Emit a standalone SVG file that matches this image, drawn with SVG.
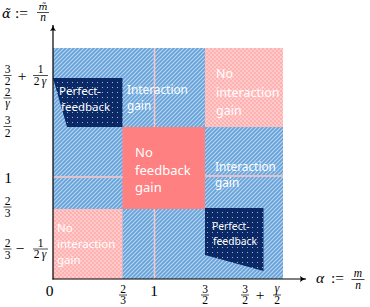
<svg xmlns="http://www.w3.org/2000/svg" width="370" height="307" viewBox="0 0 370 307">
<style>
.lbl{font-family:"Noto Sans","DejaVu Sans",sans-serif;fill:#ffffff;}
.m{font-family:"Liberation Serif","DejaVu Serif",serif;fill:#000;}
.mi{font-family:"Liberation Serif","DejaVu Serif",serif;font-style:italic;fill:#000;}
.dj{font-family:"DejaVu Serif",serif;font-style:italic;fill:#000;}
.f{font-size:11.5px;}
.b{font-size:15.5px;}
.bar{stroke:#000;stroke-width:0.7;}
.sep{stroke:#ffc4c4;stroke-width:1.5;}
.ax{stroke:#000;stroke-width:1.2;fill:none;}
</style>
<defs>
<pattern id="hatch" patternUnits="userSpaceOnUse" width="4" height="4">
<rect width="4" height="4" fill="#66a2d9"/>
<path d="M-1,1 l2,-2 M0,4 l4,-4 M3,5 l2,-2" stroke="#b6d5f0" stroke-width="1.2"/>
</pattern>
<pattern id="check" patternUnits="userSpaceOnUse" width="4" height="4">
<rect width="4" height="4" fill="#ffb0b0"/>
<rect width="2" height="2" fill="#ffcaca"/>
<rect x="2" y="2" width="2" height="2" fill="#ffcaca"/>
</pattern>
<pattern id="dots" patternUnits="userSpaceOnUse" width="5" height="5">
<rect width="5" height="5" fill="#0b2966"/>
<circle cx="2.5" cy="2.5" r="0.55" fill="#ffffff" fill-opacity="0.75"/>
</pattern>
<marker id="arr" markerWidth="8" markerHeight="8" refX="6" refY="4" orient="auto" markerUnits="userSpaceOnUse">
<path d="M0,1 Q3,3.5 6,4 Q3,4.5 0,7 Q1.5,4 0,1 Z" fill="#000"/>
</marker>
</defs>

<g id="regions">
<rect id="blue-area" x="53" y="48" width="230" height="231" fill="url(#hatch)"/>
<rect id="pink-top-right" x="205" y="48" width="78" height="79" fill="url(#check)"/>
<rect id="pink-bottom-left" x="53" y="209" width="69.5" height="70" fill="url(#check)"/>
<rect id="pink-center" x="122.5" y="127" width="82.5" height="82" fill="#ff8080"/>
<line class="sep" x1="154.5" y1="48" x2="154.5" y2="127"/>
<line class="sep" x1="154.5" y1="209" x2="154.5" y2="279"/>
<line class="sep" x1="53" y1="177" x2="122.5" y2="177"/>
<line class="sep" x1="205" y1="176" x2="283" y2="176"/>
</g>

<g id="node-perfect-feedback-1">
<polygon points="53,78 122.5,78 122.5,127 67,127" fill="url(#dots)"/>
<text class="lbl" font-size="11.5" x="59" y="95">Perfect-</text>
<text class="lbl" font-size="11.5" x="61" y="111">feedback</text>
</g>
<g id="node-interaction-gain-1">
<text class="lbl" font-size="11.8" x="127" y="94">Interaction</text>
<text class="lbl" font-size="11.8" x="127" y="110">gain</text>
</g>
<g id="node-no-interaction-gain-1">
<text class="lbl" font-size="12.5" x="216" y="78">No</text>
<text class="lbl" font-size="12.5" x="216" y="97">interaction</text>
<text class="lbl" font-size="12.5" x="216" y="115">gain</text>
</g>
<g id="node-no-feedback-gain">
<text class="lbl" font-size="13" x="135" y="157">No</text>
<text class="lbl" font-size="13" x="135" y="174.5">feedback</text>
<text class="lbl" font-size="13" x="135" y="192">gain</text>
</g>
<g id="node-interaction-gain-2">
<text class="lbl" font-size="11.8" x="215" y="171">Interaction</text>
<text class="lbl" font-size="11.8" x="215" y="187">gain</text>
</g>
<g id="node-no-interaction-gain-2">
<text class="lbl" font-size="11.5" x="57" y="232">No</text>
<text class="lbl" font-size="11.5" x="57" y="248">interaction</text>
<text class="lbl" font-size="11.5" x="57" y="264">gain</text>
</g>
<g id="node-perfect-feedback-2">
<polygon points="205,208 263.5,208 263.5,271 205,255" fill="url(#dots)"/>
<text class="lbl" font-size="10.3" x="212" y="230">Perfect-</text>
<text class="lbl" font-size="10.3" x="213" y="244.5">feedback</text>
</g>

<g id="connectors">
<line class="ax" x1="53" y1="279.5" x2="53" y2="25" marker-end="url(#arr)"/>
<line class="ax" x1="52.5" y1="279" x2="306" y2="279" marker-end="url(#arr)"/>
</g>

<g id="axis-labels">
<text class="dj" font-size="13" x="2" y="18">α̃</text>
<text class="m b" x="15" y="18">:=</text>
<text class="dj" font-size="9.5" x="43" y="10" text-anchor="middle">m̃</text>
<line class="bar" x1="37" y1="12.5" x2="49" y2="12.5"/>
<text class="mi f" x="43" y="21" text-anchor="middle">n</text>

<text class="m f" x="7.5" y="72.5" text-anchor="middle">3</text>
<line class="bar" x1="3.5" y1="75.5" x2="11.5" y2="75.5"/>
<text class="m f" x="7.5" y="85" text-anchor="middle">2</text>
<text class="m b" x="22" y="80.5" text-anchor="middle">+</text>
<text class="m f" x="40.5" y="72.5" text-anchor="middle">1</text>
<line class="bar" x1="33" y1="75.5" x2="48" y2="75.5"/>
<text class="m f" x="36.5" y="84.5" text-anchor="middle">2</text>
<text class="mi f" x="44" y="84.5" text-anchor="middle">γ</text>

<text class="m f" x="7.5" y="95.5" text-anchor="middle">2</text>
<line class="bar" x1="3.5" y1="98" x2="11.5" y2="98"/>
<text class="mi f" x="7.5" y="106.5" text-anchor="middle">γ</text>

<text class="m f" x="7.5" y="123.5" text-anchor="middle">3</text>
<line class="bar" x1="3.5" y1="126.5" x2="11.5" y2="126.5"/>
<text class="m f" x="7.5" y="137" text-anchor="middle">2</text>

<text class="m b" x="8" y="182.5" text-anchor="middle">1</text>

<text class="m f" x="7.5" y="204.5" text-anchor="middle">2</text>
<line class="bar" x1="3.5" y1="207" x2="11.5" y2="207"/>
<text class="m f" x="7.5" y="217" text-anchor="middle">3</text>

<text class="m f" x="7.5" y="246.5" text-anchor="middle">2</text>
<line class="bar" x1="3.5" y1="249" x2="11.5" y2="249"/>
<text class="m f" x="7.5" y="258.5" text-anchor="middle">3</text>
<text class="m b" x="20" y="254" text-anchor="middle">−</text>
<text class="m f" x="40.5" y="246.5" text-anchor="middle">1</text>
<line class="bar" x1="33" y1="249" x2="48" y2="249"/>
<text class="m f" x="36.5" y="258" text-anchor="middle">2</text>
<text class="mi f" x="44" y="258" text-anchor="middle">γ</text>

<text class="m b" x="49.5" y="295.5" text-anchor="middle">0</text>
<text class="m f" x="123" y="292.5" text-anchor="middle">2</text>
<line class="bar" x1="119" y1="295" x2="127" y2="295"/>
<text class="m f" x="123" y="304" text-anchor="middle">3</text>
<text class="m b" x="154" y="295.5" text-anchor="middle">1</text>
<text class="m f" x="205" y="292.5" text-anchor="middle">3</text>
<line class="bar" x1="201" y1="295" x2="209" y2="295"/>
<text class="m f" x="205" y="304" text-anchor="middle">2</text>
<text class="m f" x="245" y="292.5" text-anchor="middle">3</text>
<line class="bar" x1="241" y1="295" x2="249" y2="295"/>
<text class="m f" x="245" y="304" text-anchor="middle">2</text>
<text class="m b" x="260" y="299.5" text-anchor="middle">+</text>
<text class="mi f" x="277" y="291.5" text-anchor="middle">γ</text>
<line class="bar" x1="273" y1="295" x2="281" y2="295"/>
<text class="m f" x="277" y="304" text-anchor="middle">2</text>

<text class="mi b" x="316" y="283">α</text>
<text class="m b" x="331" y="283">:=</text>
<text class="mi f" x="358" y="277" text-anchor="middle">m</text>
<line class="bar" x1="351.5" y1="279.5" x2="364.5" y2="279.5"/>
<text class="mi f" x="358" y="288.5" text-anchor="middle">n</text>
</g>
</svg>
